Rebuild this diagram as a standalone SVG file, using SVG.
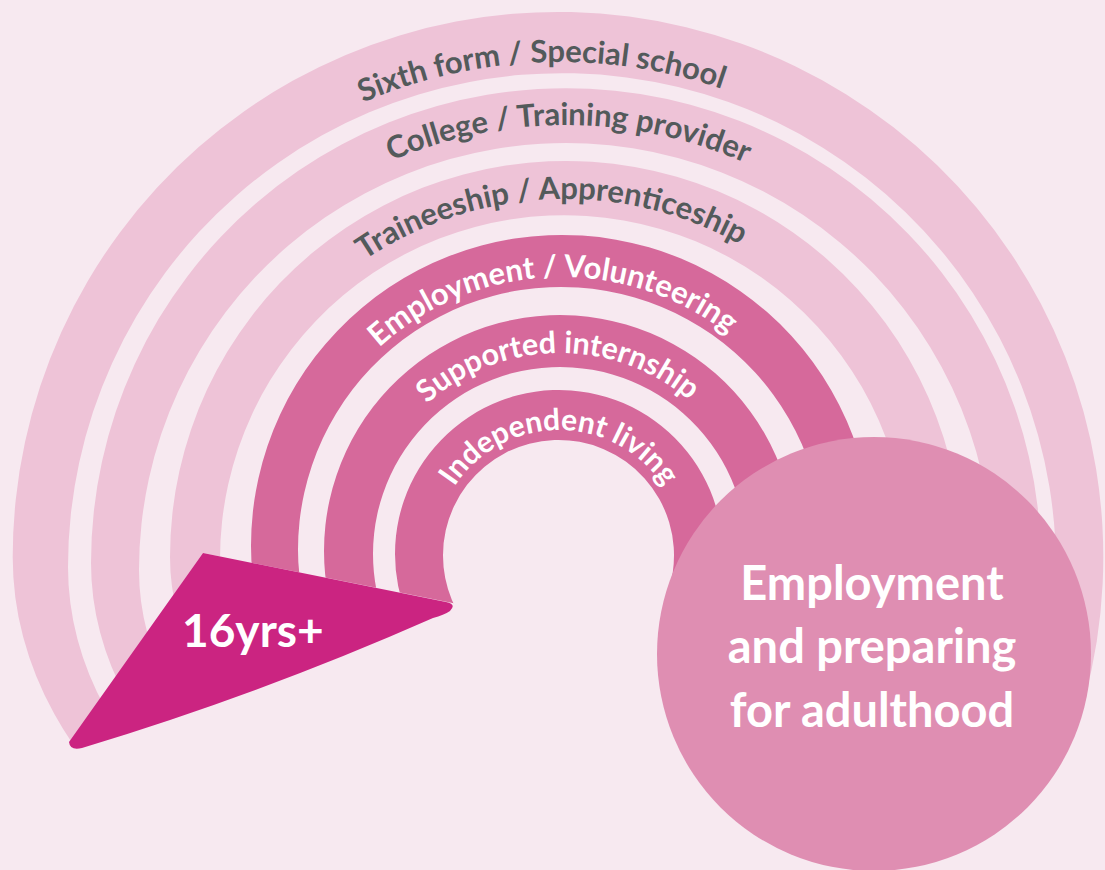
<svg xmlns="http://www.w3.org/2000/svg" width="1105" height="870" viewBox="0 0 1105 870">
<style>
.light{fill:#eec3d7}
.dark{fill:#d6699b}
.lbl{font-family:Lato,"Liberation Sans",sans-serif;font-weight:700;font-size:31px}
.gray{fill:#535a5b}
.white{fill:#ffffff}
.big{font-family:Lato,"Liberation Sans",sans-serif;font-weight:700;font-size:47px;fill:#ffffff}
</style>
<defs>
<clipPath id="cut">
<path d="M0,0 H1105 V734 L203,553 L69,744 L0,744 Z"/>
</clipPath>
<path id="p1" d="M60,562 A500,500 0 0 1 1060,562"/>
<path id="p2" d="M124,567 A442,442 0 0 1 1008,567"/>
<path id="p3" d="M206,558 A359,359 0 0 1 924,558"/>
<path id="p4" d="M290.5,548 A271,271 0 0 1 832.5,548"/>
<path id="p5" d="M360.5,552.5 A199.5,199.5 0 0 1 759.5,552.5"/>
<path id="p6" d="M434,555 A125,125 0 0 1 684,555"/>
</defs>
<rect width="1105" height="870" fill="#f7e9f0"/>
<g id="bands" clip-path="url(#cut)">
<g id="band-sixth-form">
<path class="light" d="M1084.7,698.4 A545.3,545.3 0 1 0 12.7,557.3 A545.3,409 0 0 0 558,966.3 L562,937.5 A494,370.5 0 0 1 68,567 A494,494 0 1 1 1039.2,694.9 Z"/>
</g>
<g id="band-college">
<path class="light" d="M1017.8,709.8 A475,475 0 1 0 91,563 A475,356.25 0 0 0 566,919.25 L566,890.25 A427,320.25 0 0 1 139,570 A427,427 0 1 1 972.1,702 Z"/>
</g>
<g id="band-traineeship">
<path class="light" d="M938.1,692.4 A396,396 0 1 0 170,557 A396,297 0 0 0 566,854 L564,817 A344,258 0 0 1 220,559 A344,344 0 1 1 887.3,676.7 Z"/>
</g>
<g id="band-employment">
<path class="dark" d="M854.2,652.4 A311,311 0 1 0 251,546 A311,279.9 0 0 0 562,825.9 L561,786.7 A263,236.7 0 0 1 298,550 A263,263 0 1 1 808.1,640 Z"/>
</g>
<g id="band-internship">
<path class="dark" d="M781.8,631.7 A236,236 0 1 0 324,551 A236,236 0 0 0 560,787 L560,741 A187,187 0 0 1 373,554 A187,187 0 1 1 735.7,618 Z"/>
</g>
<g id="band-independent">
<path class="dark" d="M712.1,612.8 A164,164 0 1 0 395,554 A164,164 0 0 0 559,718 L558.5,671 A115.5,115.5 0 0 1 443,555.5 A115.5,115.5 0 1 1 666.3,596.9 Z"/>
</g>
</g>
<g id="labels">
<text class="lbl gray"><textPath href="#p1" startOffset="48.8%" text-anchor="middle">Sixth form / Special school</textPath></text>
<text class="lbl gray"><textPath href="#p2" startOffset="50.2%" text-anchor="middle">College / Training provider</textPath></text>
<text class="lbl gray"><textPath href="#p3" startOffset="48.7%" text-anchor="middle">Traineeship / Apprenticeship</textPath></text>
<text class="lbl white"><textPath href="#p4" startOffset="48.8%" text-anchor="middle">Employment / Volunteering</textPath></text>
<text class="lbl white" style="font-size:30.5px"><textPath href="#p5" startOffset="49.6%" text-anchor="middle">Supported internship</textPath></text>
<text class="lbl white" style="font-size:30px"><textPath href="#p6" startOffset="50%" text-anchor="middle">Independent living</textPath></text>
</g>
<g id="start-16yrs">
<path fill="#cb2481" d="M203,553 L446,602 Q457,604 450,611 Q444,615 433,618 Q261,694 82,748 Q70,751 69,742 Z"/>
<text x="182" y="647" style="font-family:Lato,'Liberation Sans',sans-serif;font-weight:700;font-size:46px;fill:#ffffff">16yrs+</text>
</g>
<g id="goal-adulthood">
<circle cx="874" cy="654" r="217" fill="#df8eb2"/>
<text class="big" text-anchor="middle"><tspan x="872" y="600">Employment</tspan><tspan x="872" y="663">and preparing</tspan><tspan x="872" y="727">for adulthood</tspan></text>
</g>
</svg>
